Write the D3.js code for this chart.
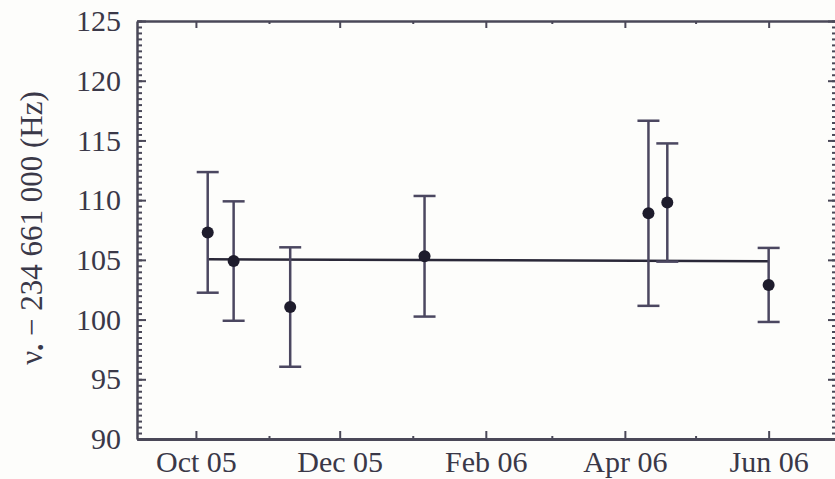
<!DOCTYPE html>
<meta charset="utf-8">

<head>
  <script src="https://cdn.jsdelivr.net/npm/d3@7"></script>
  <style>
    body { margin: 0; background: #fdfdfb; }
  </style>
</head>

<body>
  <div id="chart"></div>

  <script>

    // measurement dates, frequency minus 234 661 000 Hz, and error
    var dates = ["2005-10-06", "2005-10-17", "2005-11-10", "2006-01-06", "2006-04-11", "2006-04-19", "2006-06-01"];
    var values = [107.3, 104.9, 101.05, 105.3, 108.9, 109.8, 102.9];
    var errors = [5.05, 5.0, 5.0, 5.05, 7.75, 4.95, 3.1];

    // fitted line: value at first and at last measurement
    var fitValues = [105.05, 104.88];

    // axes
    var xDomain = ["2005-09-06", "2006-06-30"];
    var xMajorTicks = ["2005-10-01", "2005-12-01", "2006-02-01", "2006-04-01", "2006-06-01"];
    var xMinorTicks = ["2005-11-01", "2006-01-01", "2006-03-01", "2006-05-01"];
    var yDomain = [90, 125];
    var yMajorTicks = [90, 95, 100, 105, 110, 115, 120, 125];
    var yLabel = "ν";
    var yLabelSub = "•";
    var yLabelRest = " − 234 661 000 (Hz)";

    var serif = "'Liberation Serif'";
    var textColor = "#3a3848";
    var axisColor = "#4a4858";
    var parse = d3.timeParse("%Y-%m-%d");

    var margin = { top: 21, right: -2, bottom: 40, left: 137 },
      width = 835 - margin.left - margin.right,
      height = 479 - margin.top - margin.bottom;

    var svg = d3.select("#chart")
      .append("svg")
      .attr("width", 835)
      .attr("height", 479)
      .append("g")
      .attr("transform", "translate(" + margin.left + "," + margin.top + ")");

    var x = d3.scaleTime()
      .domain(xDomain.map(parse))
      .range([0, width]);

    var y = d3.scaleLinear()
      .domain(yDomain)
      .range([height, 0]);

    var yMinor = d3.range(yDomain[0], yDomain[1] + 0.01, 0.5);

    function styleAxis(g, w) {
      g.selectAll(".tick line").style("stroke", axisColor).style("stroke-width", 2);
      if (w > 0) g.select(".domain").style("stroke", axisColor).style("stroke-width", w);
      else g.select(".domain").remove();
      g.selectAll("text")
        .style("font-family", serif)
        .style("font-size", "30px")
        .style("fill", textColor);
    }

    // left axis with labels
    svg.append("g")
      .call(d3.axisLeft(y).tickValues(yMajorTicks).tickSize(-9).tickPadding(16).tickSizeOuter(0))
      .call(styleAxis, 2.5);
    svg.append("g")
      .call(d3.axisLeft(y).tickValues(yMinor).tickSize(-5).tickFormat("").tickSizeOuter(0))
      .call(styleAxis, 0);

    // right axis
    svg.append("g")
      .attr("transform", "translate(" + width + ",0)")
      .call(d3.axisRight(y).tickValues(yMajorTicks).tickSize(-9).tickFormat("").tickSizeOuter(0))
      .call(styleAxis, 2.5);
    svg.append("g")
      .attr("transform", "translate(" + width + ",0)")
      .call(d3.axisRight(y).tickValues(yMinor).tickSize(-5).tickFormat("").tickSizeOuter(0))
      .call(styleAxis, 0);

    // bottom axis with labels
    svg.append("g")
      .attr("transform", "translate(0," + height + ")")
      .call(d3.axisBottom(x).tickValues(xMajorTicks.map(parse)).tickSize(-8).tickPadding(12)
        .tickFormat(d3.timeFormat("%b %y")).tickSizeOuter(0))
      .call(styleAxis, 3);
    svg.append("g")
      .attr("transform", "translate(0," + height + ")")
      .call(d3.axisBottom(x).tickValues(xMinorTicks.map(parse)).tickSize(-3).tickFormat("").tickSizeOuter(0))
      .call(styleAxis, 0);

    // top axis
    svg.append("g")
      .call(d3.axisTop(x).tickValues(xMajorTicks.map(parse)).tickSize(-7).tickFormat("").tickSizeOuter(0))
      .call(styleAxis, 2.5);
    svg.append("g")
      .call(d3.axisTop(x).tickValues(xMinorTicks.map(parse)).tickSize(-3).tickFormat("").tickSizeOuter(0))
      .call(styleAxis, 0);

    // y axis label
    var label = svg.append("text")
      .attr("transform", "translate(" + (42 - margin.left) + "," + (228 - margin.top) + ") rotate(-90)")
      .attr("text-anchor", "middle")
      .style("font-family", serif)
      .style("font-size", "31px")
      .style("fill", textColor);
    label.append("tspan").text(yLabel);
    label.append("tspan").style("font-size", "20px").attr("dy", 6).text(yLabelSub);
    label.append("tspan").attr("dy", -6).text(yLabelRest);

    var data = dates.map(function (d, i) {
      return { date: parse(d), value: values[i], err: errors[i] };
    });

    // fitted line
    svg.append("path")
      .datum([
        { date: data[0].date, value: fitValues[0] },
        { date: data[data.length - 1].date, value: fitValues[1] }
      ])
      .attr("fill", "none")
      .attr("stroke", "#2a2838")
      .attr("stroke-width", 2.5)
      .attr("d", d3.line()
        .x(function (d) { return x(d.date); })
        .y(function (d) { return y(d.value); })
      );

    // error bars
    var bars = svg.selectAll(".errbar")
      .data(data)
      .enter()
      .append("g")
      .attr("class", "errbar")
      .attr("stroke", "#4b4760")
      .attr("stroke-width", 2.5);

    bars.append("line")
      .attr("x1", function (d) { return x(d.date); })
      .attr("x2", function (d) { return x(d.date); })
      .attr("y1", function (d) { return y(d.value + d.err); })
      .attr("y2", function (d) { return y(d.value - d.err); });
    bars.append("line")
      .attr("x1", function (d) { return x(d.date) - 11; })
      .attr("x2", function (d) { return x(d.date) + 11; })
      .attr("y1", function (d) { return y(d.value + d.err); })
      .attr("y2", function (d) { return y(d.value + d.err); });
    bars.append("line")
      .attr("x1", function (d) { return x(d.date) - 11; })
      .attr("x2", function (d) { return x(d.date) + 11; })
      .attr("y1", function (d) { return y(d.value - d.err); })
      .attr("y2", function (d) { return y(d.value - d.err); });

    // points
    svg.selectAll(".pt")
      .data(data)
      .enter()
      .append("circle")
      .attr("class", "pt")
      .attr("cx", function (d) { return x(d.date); })
      .attr("cy", function (d) { return y(d.value); })
      .attr("r", 6)
      .attr("fill", "#1e1c2c");

  </script>
</body>
